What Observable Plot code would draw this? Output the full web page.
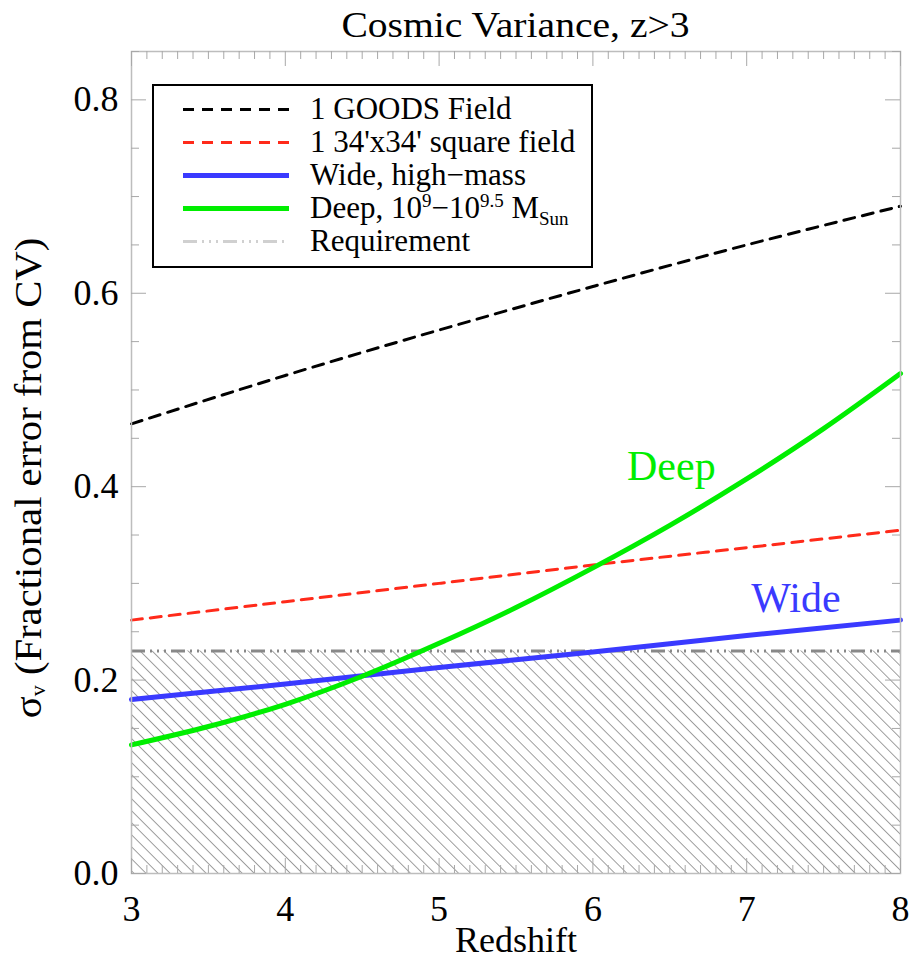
<!DOCTYPE html>
<html>
<head>
<meta charset="utf-8">
<script src="https://cdn.jsdelivr.net/npm/d3@7"></script>
<script src="https://cdn.jsdelivr.net/npm/@observablehq/plot@0.6"></script>
<style>
  html, body { margin: 0; padding: 0; background: #fff; }
  #wrap { position: relative; width: 915px; height: 963px; font-family: 'Liberation Serif', serif; color: #000; }
  #chart svg { position: absolute; left: 0; top: 0; }
  #title { position: absolute; left: 0; width: 1031px; top: 4px; text-align: center; font-family: 'Liberation Serif', serif;
           font-size: 36px; line-height: 42px; transform: scaleX(1.1); }
  #ylab { position: absolute; left: 33px; top: 478px; white-space: nowrap; font-family: 'Liberation Serif', serif;
          font-size: 37px; line-height: 40px; transform: translate(-50%, -50%) rotate(-90deg) scaleX(1.1); }
  #ylab sub { font-size: 20px; vertical-align: -4px; }
  #legend { position: absolute; left: 152px; top: 84px; width: 441px; height: 184px; box-sizing: border-box;
            border: 2.5px solid #000; background: #fff; padding-top: 7px; }
  #legend .row { position: relative; height: 33px; font-size: 31px; line-height: 33px; font-family: 'Liberation Serif', serif; }
  #legend .row svg { position: absolute; left: 29px; top: 0; }
  #legend .row span.t { position: absolute; left: 156px; top: -1px; white-space: nowrap; }
  #legend .row sup { font-size: 19px; vertical-align: 11px; line-height: 0; }
  #legend .row sub { font-size: 19px; vertical-align: -7px; line-height: 0; }
</style>
</head>
<body>
<div id="wrap">
  <div id="chart"></div>
  <div id="title">Cosmic Variance, z&gt;3</div>
  <div id="ylab">σ<sub>v</sub> (Fractional error from CV)</div>
  <div id="legend"></div>
</div>
<script>
// ---- data ----
const redshift = [3, 4, 5, 6, 7, 8];
const goodsField = [0.465, 0.515, 0.562, 0.607, 0.650, 0.690];
const squareField = [0.262, 0.281, 0.300, 0.319, 0.337, 0.355];
const wideHighMass = [0.180, 0.196, 0.213, 0.229, 0.246, 0.262];
const deepRedshift = [3, 3.5, 4, 4.5, 5, 5.5, 6, 6.5, 7, 7.5, 8];
const deepLowMass = [0.133, 0.152, 0.175, 0.204, 0.238, 0.275, 0.316, 0.360, 0.408, 0.460, 0.517];
const requirement = 0.23;
const xTickLabels = [3, 4, 5, 6, 7, 8];
const yTickLabels = [0.0, 0.2, 0.4, 0.6, 0.8];
const seriesNames = ["1 GOODS Field", "1 34'x34' square field", "Wide, high\u2212mass", "Deep", "Requirement"];
const curveLabels = [
  {text: "Deep", z: 6.51, v: 0.421, color: "#00ee00"},
  {text: "Wide", z: 7.32, v: 0.284, color: "#3a3aff"}
];

// ---- styles ----
const W = 915, H = 963;
const mL = 131, mR = 15, mT = 51, mB = 90;
const innerH = H - mT - mB, innerW = W - mL - mR;
const majorLen = 15, minorLen = 8;
const tickColor = "#a8a8a8";
const FONT = "'Liberation Serif', serif";
const COL = {goods: "#000", square: "#ff2a1a", wide: "#3a3aff", deep: "#00ee00", req: "#888"};
const DASH = {goods: "11,8", square: "11,8", req: "14,5,2,5,2,5,2,5"};

const xMinor = d3.range(3, 8.0001, 0.1).map(d => +d.toFixed(2));
const yMinor = d3.range(0, 0.85001, 0.05).map(d => +d.toFixed(2));
const isMajorX = d => Math.abs(d - Math.round(d)) < 1e-6;
const isMajorY = d => Math.abs(d * 5 - Math.round(d * 5)) < 1e-6;

const table = (xs, ys) => xs.map((z, i) => ({z, v: ys[i]}));
const hatchData = [{z: redshift[0]}, {z: redshift[redshift.length - 1]}];

const chart = Plot.plot({
  width: W, height: H,
  marginLeft: mL, marginRight: mR, marginTop: mT, marginBottom: mB,
  x: {domain: [3, 8]},
  y: {domain: [0, 0.85]},
  style: {fontFamily: FONT, fontSize: "36px", color: "#000", background: "transparent", overflow: "visible"},
  marks: [
    Plot.areaY(hatchData, {x: "z", y1: 0, y2: requirement, fill: "url(#hatch)"}),
    Plot.ruleY([requirement], {stroke: COL.req, strokeWidth: 3, strokeDasharray: DASH.req}),
    Plot.line(table(redshift, goodsField), {x: "z", y: "v", stroke: COL.goods, strokeWidth: 3, strokeDasharray: DASH.goods, curve: "catmull-rom"}),
    Plot.line(table(redshift, squareField), {x: "z", y: "v", stroke: COL.square, strokeWidth: 3, strokeDasharray: DASH.square, curve: "catmull-rom"}),
    Plot.line(table(redshift, wideHighMass), {x: "z", y: "v", stroke: COL.wide, strokeWidth: 5, curve: "catmull-rom"}),
    Plot.line(table(deepRedshift, deepLowMass), {x: "z", y: "v", stroke: COL.deep, strokeWidth: 5, curve: "catmull-rom"}),
    Plot.frame({stroke: "#bdbdbd", strokeWidth: 1.5}),
    // inward ticks on all four sides
    Plot.tickX(xMinor.filter(d => !isMajorX(d)), {x: d => d, stroke: tickColor, insetTop: innerH - minorLen}),
    Plot.tickX(xMinor.filter(isMajorX), {x: d => d, stroke: tickColor, insetTop: innerH - majorLen}),
    Plot.tickX(xMinor.filter(d => !isMajorX(d)), {x: d => d, stroke: tickColor, insetBottom: innerH - minorLen}),
    Plot.tickX(xMinor.filter(isMajorX), {x: d => d, stroke: tickColor, insetBottom: innerH - majorLen}),
    Plot.tickY(yMinor.filter(d => !isMajorY(d)), {y: d => d, stroke: tickColor, insetRight: innerW - minorLen}),
    Plot.tickY(yMinor.filter(isMajorY), {y: d => d, stroke: tickColor, insetRight: innerW - majorLen}),
    Plot.tickY(yMinor.filter(d => !isMajorY(d)), {y: d => d, stroke: tickColor, insetLeft: innerW - minorLen}),
    Plot.tickY(yMinor.filter(isMajorY), {y: d => d, stroke: tickColor, insetLeft: innerW - majorLen}),
    Plot.axisX(xTickLabels, {tickSize: 0, tickPadding: 22, label: null, fontSize: 36, fontFamily: FONT, tickFormat: d => String(d)}),
    Plot.axisY(yTickLabels, {tickSize: 0, tickPadding: 13, label: null, fontSize: 36, fontFamily: FONT, tickFormat: d3.format(".1f")}),
    Plot.text(["Redshift"], {frameAnchor: "bottom", dy: 78, fontSize: 36, fontFamily: FONT}),
    Plot.text(curveLabels, {x: "z", y: "v", text: "text", fill: "color", fontSize: 42, fontFamily: FONT})
  ]
});

// hatch pattern definition
const ns = "http://www.w3.org/2000/svg";
const defs = document.createElementNS(ns, "defs");
defs.innerHTML = '<pattern id="hatch" patternUnits="userSpaceOnUse" width="8.5" height="8.5" patternTransform="rotate(-45)">' +
  '<line x1="4.25" y1="-1" x2="4.25" y2="9.5" stroke="#9a9a9a" stroke-width="1"/></pattern>';
chart.insertBefore(defs, chart.firstChild);
document.getElementById("chart").appendChild(chart);

// legend
const legendItems = [
  {label: seriesNames[0], stroke: COL.goods, width: 3, dash: DASH.goods},
  {label: seriesNames[1], stroke: COL.square, width: 3, dash: DASH.square},
  {label: seriesNames[2], stroke: COL.wide, width: 5, dash: null},
  {label: seriesNames[3] + ', 10<sup>9</sup>\u221210<sup>9.5</sup> M<sub>Sun</sub>', stroke: COL.deep, width: 5, dash: null},
  {label: seriesNames[4], stroke: "#d0d0d0", width: 3, dash: DASH.req}
];
const legend = document.getElementById("legend");
for (const it of legendItems) {
  const row = document.createElement("div");
  row.className = "row";
  row.innerHTML = `<svg width="106" height="33"><line x1="0" x2="106" y1="16.5" y2="16.5" stroke="${it.stroke}" stroke-width="${it.width}" ${it.dash ? `stroke-dasharray="${it.dash}"` : ""}/></svg><span class="t">${it.label}</span>`;
  legend.appendChild(row);
}
</script>
</body>
</html>
